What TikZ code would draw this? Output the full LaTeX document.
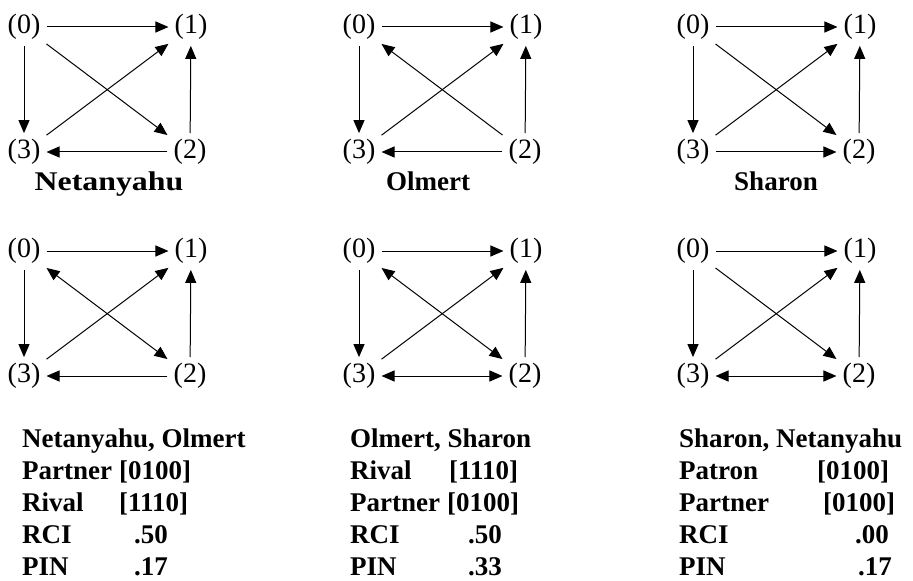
\documentclass[tikz,border=0pt]{standalone}
\usepackage{graphicx}
\usepackage{fontspec}
\setmainfont{Liberation Serif}
\usetikzlibrary{arrows.meta}
\begin{document}
\begin{tikzpicture}[x=1bp,y=-1bp,
  num/.style={font=\fontsize{28bp}{30bp}\selectfont, inner sep=6bp},
  lbl/.style={font=\fontsize{27bp}{32bp}\selectfont\bfseries, inner sep=0pt, anchor=base},
  txt/.style={font=\fontsize{27bp}{32bp}\selectfont\bfseries, inner sep=0pt, anchor=base west},
  tip/.tip={Triangle[length=13bp,width=11bp]},
  edge/.style={line width=1bp, -tip},
  bedge/.style={line width=1bp, tip-tip}]
\useasboundingbox (0,0) rectangle (913,581);
\newcommand{\mkgraph}[3]{%
  \begin{scope}[shift={(#2,#3)}]
    \node[num] (#1-0) at (24,27) {(0)};
    \node[num] (#1-1) at (191,27) {(1)};
    \node[num] (#1-2) at (190,152) {(2)};
    \node[num] (#1-3) at (24,152) {(3)};
  \end{scope}}
% top row
\mkgraph{a}{0}{0}
\mkgraph{b}{335}{0}
\mkgraph{c}{669}{0}
% bottom row
\mkgraph{d}{0}{224}
\mkgraph{e}{335}{224}
\mkgraph{f}{669}{224}
% Netanyahu
\draw[edge] (a-0) -- (a-1);
\draw[edge] (a-0) -- (a-3);
\draw[edge] (a-0) -- (a-2);
\draw[edge] (a-3) -- (a-1);
\draw[edge] (a-2) -- (a-1);
\draw[edge] (a-2) -- (a-3);
% Olmert
\draw[edge] (b-0) -- (b-1);
\draw[edge] (b-0) -- (b-3);
\draw[edge] (b-2) -- (b-0);
\draw[edge] (b-3) -- (b-1);
\draw[edge] (b-2) -- (b-1);
\draw[edge] (b-2) -- (b-3);
% Sharon
\draw[edge] (c-0) -- (c-1);
\draw[edge] (c-0) -- (c-3);
\draw[edge] (c-0) -- (c-2);
\draw[edge] (c-3) -- (c-1);
\draw[edge] (c-2) -- (c-1);
\draw[edge] (c-3) -- (c-2);
% Netanyahu, Olmert
\draw[edge] (d-0) -- (d-1);
\draw[edge] (d-0) -- (d-3);
\draw[bedge] (d-0) -- (d-2);
\draw[edge] (d-3) -- (d-1);
\draw[edge] (d-2) -- (d-1);
\draw[edge] (d-2) -- (d-3);
% Olmert, Sharon
\draw[edge] (e-0) -- (e-1);
\draw[edge] (e-0) -- (e-3);
\draw[bedge] (e-0) -- (e-2);
\draw[edge] (e-3) -- (e-1);
\draw[edge] (e-2) -- (e-1);
\draw[bedge] (e-3) -- (e-2);
% Sharon, Netanyahu
\draw[edge] (f-0) -- (f-1);
\draw[edge] (f-0) -- (f-3);
\draw[edge] (f-0) -- (f-2);
\draw[edge] (f-3) -- (f-1);
\draw[edge] (f-2) -- (f-1);
\draw[bedge] (f-3) -- (f-2);
% labels of top row
\node[lbl] (la) at (109,191) {\scalebox{1.18}[1]{Netanyahu}};
\node[lbl] (lb) at (428,191) {Olmert};
\node[lbl] (lc) at (776,191) {Sharon};
% column 1
\node[txt] (t1a) at (22,447) {Netanyahu, Olmert};
\node[txt] (t1b) at (22,479) {Partner};
\node[txt] (t1bv) at (119,479) {[0100]};
\node[txt] (t1c) at (22,511) {Rival};
\node[txt] (t1cv) at (119,511) {[1110]};
\node[txt] (t1d) at (22,543) {RCI};
\node[txt] (t1dv) at (134,543) {.50};
\node[txt] (t1e) at (22,575) {PIN};
\node[txt] (t1ev) at (134,575) {.17};
% column 2
\node[txt] (t2a) at (350,447) {Olmert, Sharon};
\node[txt] (t2b) at (350,479) {Rival};
\node[txt] (t2bv) at (449,479) {[1110]};
\node[txt] (t2c) at (350,511) {Partner};
\node[txt] (t2cv) at (447,511) {[0100]};
\node[txt] (t2d) at (350,543) {RCI};
\node[txt] (t2dv) at (468,543) {.50};
\node[txt] (t2e) at (350,575) {PIN};
\node[txt] (t2ev) at (468,575) {.33};
% column 3
\node[txt] (t3a) at (679,447) {Sharon, Netanyahu};
\node[txt] (t3b) at (679,479) {Patron};
\node[txt] (t3bv) at (817,479) {[0100]};
\node[txt] (t3c) at (679,511) {Partner};
\node[txt] (t3cv) at (823,511) {[0100]};
\node[txt] (t3d) at (679,543) {RCI};
\node[txt] (t3dv) at (855,543) {.00};
\node[txt] (t3e) at (679,575) {PIN};
\node[txt] (t3ev) at (858,575) {.17};
\end{tikzpicture}
\end{document}
